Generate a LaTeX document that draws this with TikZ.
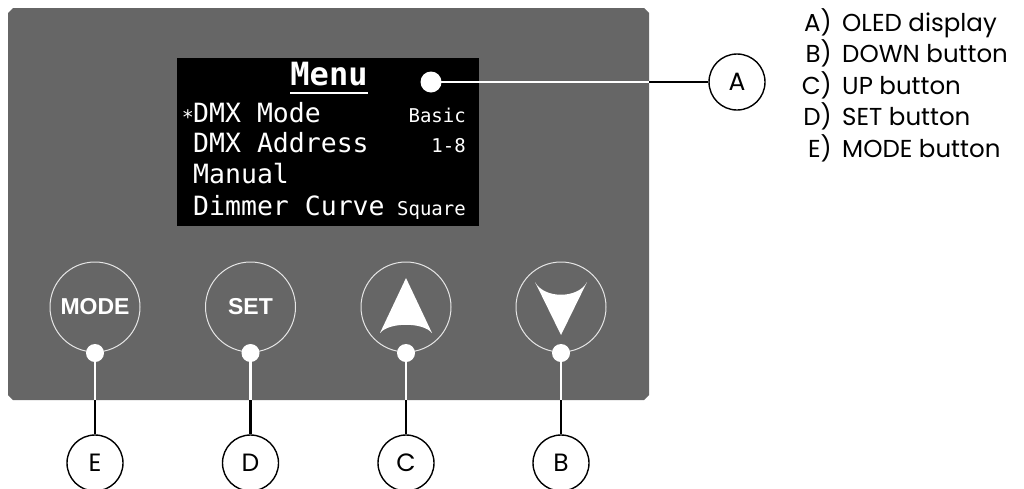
\documentclass[tikz,border=0pt]{standalone}
\usepackage{fontspec}
\setmainfont{Poppins}
\newfontfamily\monofont{DejaVu Sans Mono}
\newfontfamily\btnfont{Liberation Sans}
\definecolor{panel}{HTML}{666666}
\definecolor{ring}{HTML}{E6E6E6}
\tikzset{
  lcircle/.style={circle, draw=black, line width=1.4pt, minimum size=56pt, inner sep=0pt, font=\fontsize{25}{25}\selectfont},
  btn/.style={circle, draw=ring, line width=1pt, minimum size=90pt, inner sep=0pt, text=white, font=\btnfont\bfseries\fontsize{23}{23}\selectfont},
  wdot/.style={circle, fill=white, minimum size=18pt, inner sep=0pt},
  adot/.style={circle, fill=white, minimum size=21pt, inner sep=0pt},
  wline/.style={draw=white, line width=2.7pt},
  bline/.style={draw=black, line width=2.7pt},
  oled/.style={text=white, inner sep=0pt, font=\monofont\fontsize{26.5}{26.5}\selectfont},
  oledsm/.style={text=white, inner sep=0pt, font=\monofont\fontsize{19}{19}\selectfont},
  legkey/.style={anchor=base east, inner sep=0pt, font=\fontsize{24.5}{24.5}\selectfont},
  legtxt/.style={anchor=base west, inner sep=0pt, font=\fontsize{24.5}{24.5}\selectfont},
}
\begin{document}
\begin{tikzpicture}[x=1pt,y=-1pt]
\useasboundingbox (0,0) rectangle (1024,488);
% panel
\fill[panel] (13,8) -- (644,8) -- (649,13) -- (649,395) -- (644,400) -- (13,400) -- (8,395) -- (8,13) -- cycle;
% display
\fill[black] (177,58) rectangle (479,226);
\node[oled, anchor=base, font=\monofont\bfseries\fontsize{32}{32}\selectfont] (menu) at (329,85) {Menu};
\draw[white, line width=2pt] (290,93) -- (368,93);
\node[oledsm, anchor=base, font=\monofont\fontsize{20}{20}\selectfont] (star) at (188,124) {*};
\node[oled, anchor=base west] (l1) at (193,122) {DMX Mode};
\node[oled, anchor=base west] (l2) at (193,152) {DMX Address};
\node[oled, anchor=base west] (l3) at (193,183) {Manual};
\node[oled, anchor=base west] (l4) at (193,215) {Dimmer Curve};
\node[oledsm, anchor=base east] (v1) at (466,122) {Basic};
\node[oledsm, anchor=base east] (v2) at (466,152) {1-8};
\node[oledsm, anchor=base east] (v4) at (466,215) {Square};
% callout A
\node[adot] (dA) at (431,82) {};
\coordinate (eA) at (649,82);
\node[lcircle] (cA) at (737,82) {A};
\draw[wline] (dA.center) -- (eA);
\draw[bline] (eA) -- (cA.west);
% buttons
\node[btn] (bMode) at (95,307) {MODE};
\node[btn] (bSet) at (250.5,307) {SET};
\node[btn] (bUp) at (406,307) {};
\node[btn] (bDown) at (561,307) {};
\fill[white] (406,278) -- (432,333) .. controls (423,322) and (389,322) .. (380,333) -- cycle;
\fill[white] (535,282) -- (561,335) -- (587,282) .. controls (578,299) and (544,299) .. (535,282) -- cycle;
% dots, connectors, label circles
\foreach \b/\l/\x in {bMode/E/95, bSet/D/250.5, bUp/C/406, bDown/B/561}{
  \node[wdot] (d\l) at (\x,353) {};
  \coordinate (e\l) at (\x,400);
  \node[lcircle] (c\l) at (\x,463) {\l};
  \draw[wline] (d\l.center) -- (e\l);
  \draw[bline] (e\l) -- (c\l.north);
}
% legend
\node[legkey] (kA) at (832,31) {A)};
\node[legtxt] (tA) at (842,31) {OLED display};
\node[legkey] (kB) at (832,62.5) {B)};
\node[legtxt] (tB) at (842,62.5) {DOWN button};
\node[legkey] (kC) at (832,94) {C)};
\node[legtxt] (tC) at (842,94) {UP button};
\node[legkey] (kD) at (832,125.5) {D)};
\node[legtxt] (tD) at (842,125.5) {SET button};
\node[legkey] (kE) at (832,157) {E)};
\node[legtxt] (tE) at (842,157) {MODE button};
\end{tikzpicture}
\end{document}
